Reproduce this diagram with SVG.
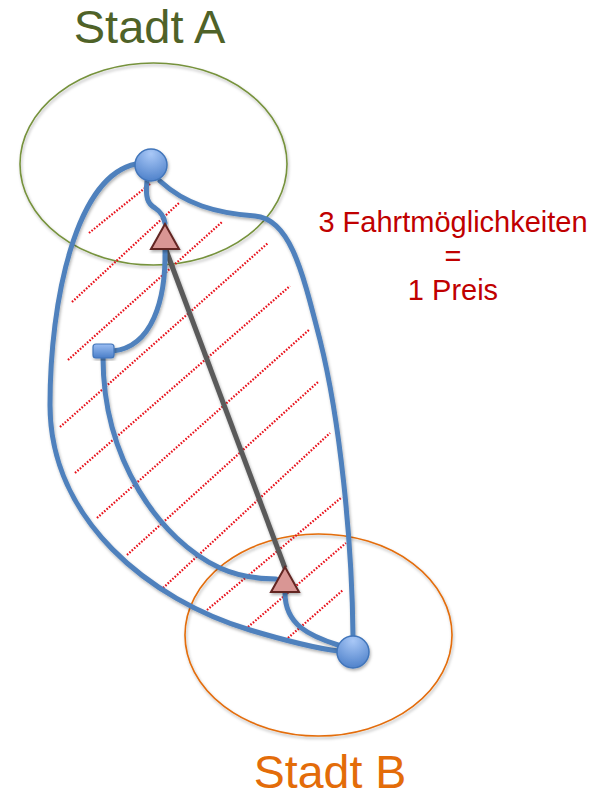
<svg xmlns="http://www.w3.org/2000/svg" width="607" height="798" viewBox="0 0 607 798">
<defs>
  <radialGradient id="nodeGrad" cx="0.5" cy="0.15" r="0.9">
    <stop offset="0" stop-color="#A9C8F7"/>
    <stop offset="1" stop-color="#4A7EC8"/>
  </radialGradient>
  <linearGradient id="rectGrad" x1="0" y1="0" x2="0" y2="1">
    <stop offset="0" stop-color="#9CBEF3"/>
    <stop offset="1" stop-color="#4A7EC8"/>
  </linearGradient>
  <filter id="shadow" x="-20%" y="-20%" width="140%" height="140%">
    <feDropShadow dx="1" dy="2" stdDeviation="1.5" flood-color="#000" flood-opacity="0.3"/>
  </filter>
</defs>
<style>
  .city { fill: none; stroke-width: 1.6; }
  .route { fill: none; stroke: #4F81BD; stroke-width: 5; stroke-linecap: round; }
  .hatch { stroke: #E8101A; stroke-width: 2.2; stroke-dasharray: 1.6 1.6; fill: none; }
  .label { font-family: "Liberation Sans", Arial, sans-serif; text-anchor: middle; }
  .node { fill: url(#nodeGrad); stroke: #4175BA; stroke-width: 1.5; }
  .tri { fill: #D99694; stroke: #632523; stroke-width: 2; stroke-linejoin: miter; }
</style>

<g id="stadtA">
  <ellipse class="city" cx="153.5" cy="164" rx="133.5" ry="101" stroke="#76923C" filter="url(#shadow)"/>
  <text class="label" x="149.5" y="43" font-size="47" fill="#4F6228">Stadt A</text>
</g>
<g id="stadtB">
  <ellipse class="city" cx="318.5" cy="635" rx="133.5" ry="101" stroke="#E36C09" filter="url(#shadow)"/>
  <text class="label" x="330" y="788" font-size="46.5" fill="#E36C09">Stadt B</text>
</g>

<g id="hatching">
  <line class="hatch" x1="89" y1="233" x2="150" y2="184"/>
  <line class="hatch" x1="72" y1="302" x2="179" y2="203"/>
  <line class="hatch" x1="68" y1="360" x2="222" y2="222"/>
  <line class="hatch" x1="60" y1="427" x2="268" y2="243"/>
  <line class="hatch" x1="75" y1="473" x2="290" y2="286"/>
  <line class="hatch" x1="97" y1="518" x2="310" y2="329"/>
  <line class="hatch" x1="127" y1="555" x2="318" y2="382"/>
  <line class="hatch" x1="163" y1="588" x2="330" y2="433"/>
  <line class="hatch" x1="207" y1="610" x2="342" y2="497"/>
  <line class="hatch" x1="248" y1="627" x2="346" y2="543"/>
  <line class="hatch" x1="288" y1="638" x2="343" y2="590"/>
</g>

<g id="connectors">
  <line x1="166" y1="250" x2="285" y2="568" stroke="#5A5A5A" stroke-width="5" filter="url(#shadow)"/>
  <path class="route" filter="url(#shadow)" d="M136,164 C76,176 50,300 50,405 C50,520 150,600 250,630 C290,642 315,648 338,651"/>
  <path class="route" filter="url(#shadow)" d="M160,181 C185,204 215,213 255,216 C290,219 302,270 320,340 C340,420 352,540 353,636"/>
  <path class="route" filter="url(#shadow)" d="M147,181 C145,198 148,204 155,208 C161,212 164,217 165,223"/>
  <path class="route" filter="url(#shadow)" d="M165,250 C166,300 152,347 113,351"/>
  <path class="route" filter="url(#shadow)" d="M103,357 C103,460 160,540 220,568 C240,577 258,579 276,579"/>
  <path class="route" filter="url(#shadow)" d="M285,593 C285,625 310,636 338,645"/>
</g>

<g id="nodeA" filter="url(#shadow)">
  <circle class="node" cx="151" cy="165" r="16"/>
</g>
<g id="nodeB" filter="url(#shadow)">
  <circle class="node" cx="353" cy="652" r="16"/>
</g>
<g id="stop" filter="url(#shadow)">
  <rect x="93" y="344" width="21" height="14" rx="3" fill="url(#rectGrad)" stroke="#4175BA" stroke-width="1.2"/>
</g>
<g id="triA" filter="url(#shadow)">
  <polygon class="tri" points="165,224 151,249 179,249"/>
</g>
<g id="triB" filter="url(#shadow)">
  <polygon class="tri" points="285,567 271,592 299,592"/>
</g>

<g id="note">
  <text class="label" x="453" y="232" font-size="29" fill="#C00000">3 Fahrtmöglichkeiten</text>
  <text class="label" x="453" y="266" font-size="29" fill="#C00000">=</text>
  <text class="label" x="453" y="300" font-size="29" fill="#C00000">1 Preis</text>
</g>
</svg>
